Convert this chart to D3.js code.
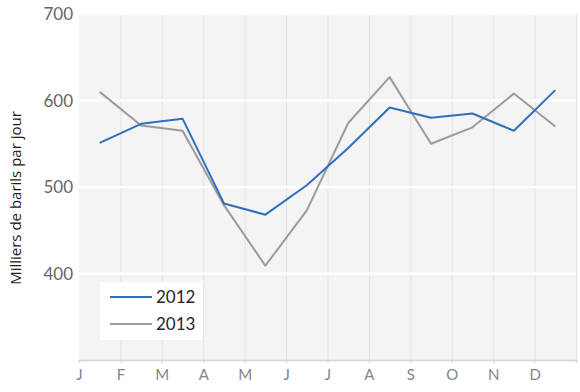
<!DOCTYPE html>
<html>
<head>
<meta charset="utf-8">
<script src="https://cdn.jsdelivr.net/npm/d3@7"></script>
<style>
  body { margin: 0; background: #fff; }
  svg { display: block; font-family: Lato, "Open Sans", sans-serif; }
</style>
</head>
<body>
<svg class="chart"></svg>
<script>
// Chart data
const months = ["J", "F", "M", "A", "M", "J", "J", "A", "S", "O", "N", "D"];
const years = ["2012", "2013"];
const values2012 = [551, 573, 579, 481, 468, 502, 545, 592, 580, 585, 565, 612];
const values2013 = [610, 571, 565, 479, 409, 473, 574, 627, 550, 569, 608, 570];
const yTicks = [400, 500, 600, 700];
const colors = ["#2f6ebf", "#9b9b9b"];

const series = [values2012, values2013];

const width = 580;
const height = 392;
const marginTop = 14;
const marginRight = 4;
const marginBottom = 32;
const marginLeft = 79;

const svg = d3.select("svg.chart").attr("width", width).attr("height", height);

// month boundaries on a 0..12 scale, points sit in the middle of each month
const x = d3.scaleLinear().domain([0, 12]).range([marginLeft, width - marginRight]);
const y = d3.scaleLinear().domain([300, 700]).range([height - marginBottom, marginTop]);

// plot background
svg.append("rect")
  .attr("x", x(0))
  .attr("y", y(700))
  .attr("width", x(12) - x(0))
  .attr("height", y(300) - y(700))
  .attr("fill", "#f4f4f4");

// vertical grid
svg.append("g")
  .selectAll("line")
  .data(d3.range(1, 13))
  .enter()
  .append("line")
    .attr("x1", d => x(d) + 0.5)
    .attr("x2", d => x(d) + 0.5)
    .attr("y1", y(700))
    .attr("y2", y(300))
    .attr("stroke", "#e2e2e2")
    .attr("stroke-width", 1);

// horizontal grid (white)
svg.append("g")
  .selectAll("line")
  .data(yTicks)
  .enter()
  .append("line")
    .attr("x1", x(0))
    .attr("x2", x(12))
    .attr("y1", d => y(d))
    .attr("y2", d => y(d))
    .attr("stroke", "#ffffff")
    .attr("stroke-width", 2.5);

// y labels
svg.append("g")
  .selectAll("text")
  .data(yTicks)
  .enter()
  .append("text")
    .attr("x", x(0) - 6)
    .attr("y", d => y(d))
    .attr("dy", "0.36em")
    .attr("text-anchor", "end")
    .attr("fill", "#666666")
    .attr("font-size", 17)
    .text(d => d);

// bottom axis
const xAxis = svg.append("g")
  .attr("transform", `translate(0,${y(300)})`)
  .call(d3.axisBottom(x)
    .tickValues(d3.range(0, 13))
    .tickSize(3)
    .tickFormat(d => months[d] || ""));

xAxis.select(".domain").attr("stroke", "#d6d6d6").attr("stroke-width", 1.5);
xAxis.selectAll(".tick line").attr("stroke", "#d6d6d6");
xAxis.selectAll(".tick text")
  .attr("fill", "#858585")
  .attr("font-size", 15)
  .attr("font-family", "Lato, sans-serif")
  .attr("dy", "0.95em");

// y title
svg.append("text")
  .attr("transform", `translate(21,${(y(300) + y(700)) / 2 + 11}) rotate(-90)`)
  .attr("text-anchor", "middle")
  .attr("fill", "#1a1a1a")
  .attr("font-size", 15)
  .attr("font-family", "'Open Sans', sans-serif")
  .text("Milliers de barils par jour");

// lines
const line = d3.line()
  .x((d, i) => x(i + 0.5))
  .y(d => y(d));

svg.append("g")
  .selectAll("path")
  .data(series.slice().reverse())
  .enter()
  .append("path")
    .attr("fill", "none")
    .attr("stroke", (d, i) => colors[series.length - 1 - i])
    .attr("stroke-width", 2)
    .attr("stroke-linejoin", "round")
    .attr("d", line);

// legend
const legend = svg.append("g").attr("transform", "translate(100,282)");

legend.append("rect")
  .attr("width", 103)
  .attr("height", 58)
  .attr("fill", "#ffffff");

const legend_element = legend.selectAll("g")
  .data(years)
  .enter()
  .append("g")
    .attr("transform", (d, i) => `translate(0,${15 + i * 27})`);

legend_element.append("line")
  .attr("x1", 10)
  .attr("x2", 52)
  .attr("stroke", (d, i) => colors[i])
  .attr("stroke-width", 2);

legend_element.append("text")
  .attr("x", 56)
  .attr("dy", "0.36em")
  .attr("fill", "#262626")
  .attr("font-size", 17)
  .text(d => d);
</script>
</body>
</html>
